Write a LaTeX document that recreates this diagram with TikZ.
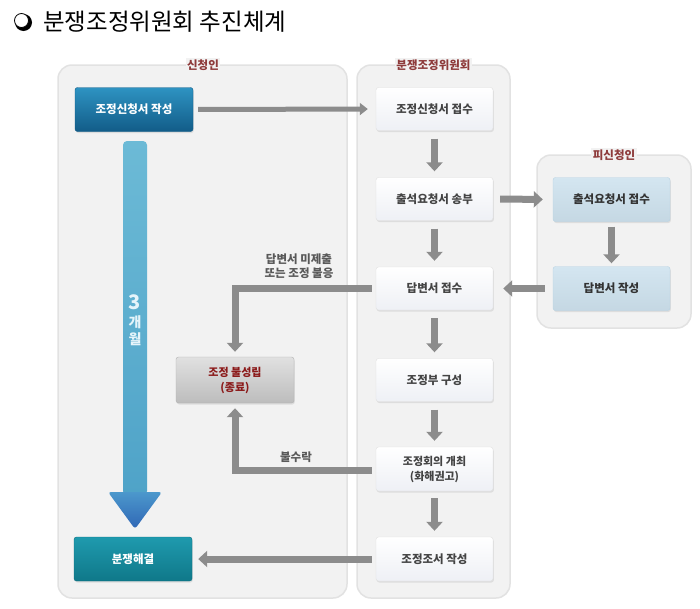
\documentclass[tikz,border=0pt]{standalone}
\usepackage{fontspec}
\setmainfont{Noto Sans CJK KR}
\usetikzlibrary{arrows.meta,shadows,calc}
\definecolor{panelbg}{HTML}{F2F2F2}
\definecolor{panelln}{HTML}{E2E2E2}
\definecolor{lbl}{HTML}{8E3B3B}
\definecolor{arr}{HTML}{8C8C8C}
\definecolor{txt}{HTML}{444444}
\definecolor{pblue}{HTML}{CFE3EF}
\definecolor{pbluel}{HTML}{B8D3E3}
\definecolor{failred}{HTML}{8B1A1A}
\definecolor{sh1}{HTML}{6CBAD6}
\definecolor{sh2}{HTML}{4FA3C8}
\definecolor{hd1}{HTML}{4C98CC}
\definecolor{hd2}{HTML}{2F66B5}
\definecolor{mtxt}{HTML}{E6F4FA}
\definecolor{a1d}{HTML}{0F5A85}
\definecolor{a1t}{HTML}{2E93C2}
\definecolor{a1b}{HTML}{125C88}
\definecolor{a2d}{HTML}{0E6F80}
\definecolor{a2t}{HTML}{1F9AAE}
\definecolor{a2b}{HTML}{0F7889}
\definecolor{wbot}{HTML}{EEF0F5}
\tikzset{
  panel/.style={draw=panelln, line width=1.5pt, fill=panelbg, rounded corners=14pt},
  plabel/.style={fill=panelbg, inner sep=1.5pt, text=lbl, font=\fontsize{11.5}{12}\selectfont\bfseries},
  wbox/.style={draw=black!12, rounded corners=2.5pt, top color=white, bottom color=wbot,
     minimum width=117pt, minimum height=43pt, text=txt, align=center,
     font=\fontsize{11.5}{15}\selectfont\bfseries,
     drop shadow={opacity=0.18, shadow xshift=0.8pt, shadow yshift=-1.5pt}},
  bbox/.style={wbox, draw=pbluel, top color=pblue!90!white, bottom color=pblue!95!black, text=black!80},
  flow/.style={draw=arr, line width=7pt, -{Triangle[width=16pt,length=9pt]}},
  flowthin/.style={draw=arr, line width=5pt, -{Triangle[width=12pt,length=8pt]}},
  elabel/.style={text=black!65, align=center, font=\fontsize{11.5}{14.5}\selectfont\bfseries},
}
\begin{document}
\begin{tikzpicture}[x=1pt,y=-1pt]
\useasboundingbox (0,0) rectangle (700,608);
\fill[white] (0,0) rectangle (700,608);

% title
\fill[black] (23.5,22.5) circle (8.5);
\filldraw[fill=white, draw=black, line width=0.8pt] (21.5,20.5) circle (7);
\node[anchor=west, inner sep=0, font=\fontsize{23.5}{26}\selectfont] (title) at (43,22) {분쟁조정위원회 추진체계};

% panels
\draw[panel] (58,65) rectangle (347,598);
\draw[panel] (357,65) rectangle (510,598);
\draw[panel] (537,155) rectangle (691,328);
\node[plabel] (lp) at (203,65) {신청인};
\node[plabel] (mp) at (433.5,65) {분쟁조정위원회};
\node[plabel] (rp) at (614,155) {피신청인};

% big blue arrow (3 months)
\shade[top color=sh1, bottom color=sh2, rounded corners=4pt]
  (123,141) -- (147,141) -- (147,495) -- (123,495) -- cycle;
\shade[top color=hd1, bottom color=hd2, rounded corners=3pt]
  (108,492) -- (162,492) -- (135,529) -- cycle;
\node[text=mtxt, font=\fontsize{20}{20}\selectfont\bfseries] (n3) at (135,302) {3};
\node[text=mtxt, font=\fontsize{14}{14}\selectfont\bfseries] (ng) at (135,322) {개};
\node[text=mtxt, font=\fontsize{14}{14}\selectfont\bfseries] (nw) at (135,339) {월};

% left boxes
\node[wbox, draw=a1d, top color=a1t, bottom color=a1b, text=white,
      minimum width=118pt, minimum height=44pt] (a1) at (134,109.5) {조정신청서 작성};
\node[wbox, draw=a2d, top color=a2t, bottom color=a2b, text=white,
      minimum width=118pt, minimum height=44pt] (a2) at (133,559) {분쟁해결};
\node[wbox, draw=black!30, top color=black!12, bottom color=black!26, text=failred,
      minimum width=118pt, minimum height=46pt, font=\fontsize{11}{15}\selectfont\bfseries] (fail) at (235,380) {조정 불성립\\(종료)};

% middle boxes
\node[wbox] (m1) at (434.5,109) {조정신청서 접수};
\node[wbox] (m2) at (434.5,199) {출석요청서 송부};
\node[wbox] (m3) at (434.5,288.5) {답변서 접수};
\node[wbox] (m4) at (434.5,380) {조정부 구성};
\node[wbox, minimum height=44pt, font=\fontsize{11}{15}\selectfont\bfseries] (m5) at (434.5,469) {조정회의 개최\\(화해권고)};
\node[wbox, minimum height=44pt] (m6) at (434.5,559) {조정조서 작성};

% right boxes
\node[bbox, minimum height=44pt] (p1) at (611.5,199.5) {출석요청서 접수};
\node[bbox, minimum height=44pt] (p2) at (611.5,288.5) {답변서 작성};

% connectors
\draw[flowthin, shorten <=5pt, shorten >=8pt] (a1.east) -- (m1.west);
\draw[flow, shorten <=8pt, shorten >=6pt] (m1.south) -- (m2.north);
\draw[flow, shorten <=8pt, shorten >=6pt] (m2.south) -- (m3.north);
\draw[flow, shorten <=8pt, shorten >=6pt] (m3.south) -- (m4.north);
\draw[flow, shorten <=8pt, shorten >=6pt] (m4.south) -- (m5.north);
\draw[flow, shorten <=7pt, shorten >=6pt] (m5.south) -- (m6.north);
\draw[flow, shorten <=7pt, shorten >=10pt] (m2.east) -- (p1.west);
\draw[flow, shorten <=5pt, shorten >=3pt] (p1.south) -- (p2.north);
\draw[flow, shorten <=8pt, shorten >=10pt] (p2.west) -- (m3.east);
\draw[flow, shorten <=4pt, shorten >=5pt] (m3.west) -| (fail.north);
\draw[flow, shorten <=4pt, shorten >=5pt] ($(m5.west)+(0,1)$) -| (fail.south);
\draw[flow, shorten <=4pt, shorten >=6pt] (m6.west) -- (a2.east);

% connector labels
\node[elabel] (l1) at (299,266) {답변서 미제출\\또는 조정 불응};
\node[elabel] (l2) at (296,457) {불수락};
\end{tikzpicture}
\end{document}
